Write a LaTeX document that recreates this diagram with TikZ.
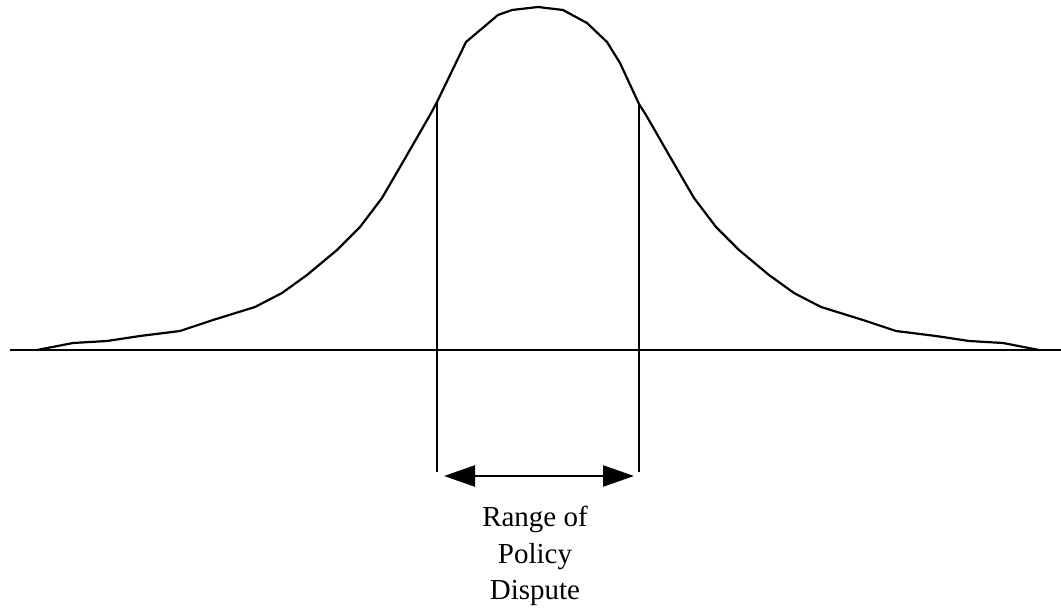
\documentclass[tikz,border=0pt]{standalone}
\usepackage{fontspec}
\setmainfont{Liberation Serif}
\usetikzlibrary{arrows.meta}
\usetikzlibrary{positioning}

\begin{document}
\begin{tikzpicture}[
  x=1pt, y=-1pt,
  curve/.style={line width=2.2pt, line join=round},
  axis/.style={line width=2.3pt},
  bound/.style={line width=2.4pt},
  spanarrow/.style={{Triangle[length=31pt,width=21pt]}-{Triangle[length=31pt,width=21pt]}, line width=2.4pt},
  lbl/.style={font=\fontsize{29}{36.5}\selectfont, align=center, inner sep=0pt}
]
\useasboundingbox (0,0) rectangle (1061,609);

% ---------- Baseline ----------
\coordinate (axl) at (10,350);
\coordinate (axr) at (1061,350);
\draw[axis] (axl) -- (axr);

% ---------- Distribution of opinion ----------
\draw[curve] (37,350) -- (73,343) -- (107,341) -- (140,336) -- (180,331)
  -- (213,320) -- (255,307) -- (282,293) -- (307,275) -- (337,250)
  -- (360,227) -- (382,198) -- (407,155) -- (430,115) -- (437,102)
  -- (466,42) -- (498,15) -- (512,10) -- (538,7) -- (563,10)
  -- (587,23) -- (607,42) -- (620,63) -- (639,104) -- (646,115)
  -- (669,155) -- (694,198) -- (716,227) -- (739,250) -- (769,275)
  -- (794,293) -- (821,307) -- (863,320) -- (896,331) -- (936,336)
  -- (969,341) -- (1003,343) -- (1039,350);

% ---------- Range bounds ----------
\coordinate (ltop) at (437,102);
\coordinate (rtop) at (639,104);
\coordinate (lbot) at (437,472);
\coordinate (rbot) at (639,472);
\draw[bound] (ltop) -- (lbot);
\draw[bound] (rtop) -- (rbot);

\coordinate (al) at (444,476);
\coordinate (ar) at (634,476);
\draw[spanarrow] (al) -- (ar);

% ---------- Label ----------
\node[lbl, anchor=north] (disp) at (535,506) {Range of\\ Policy\\ Dispute};

\end{tikzpicture}
\end{document}
